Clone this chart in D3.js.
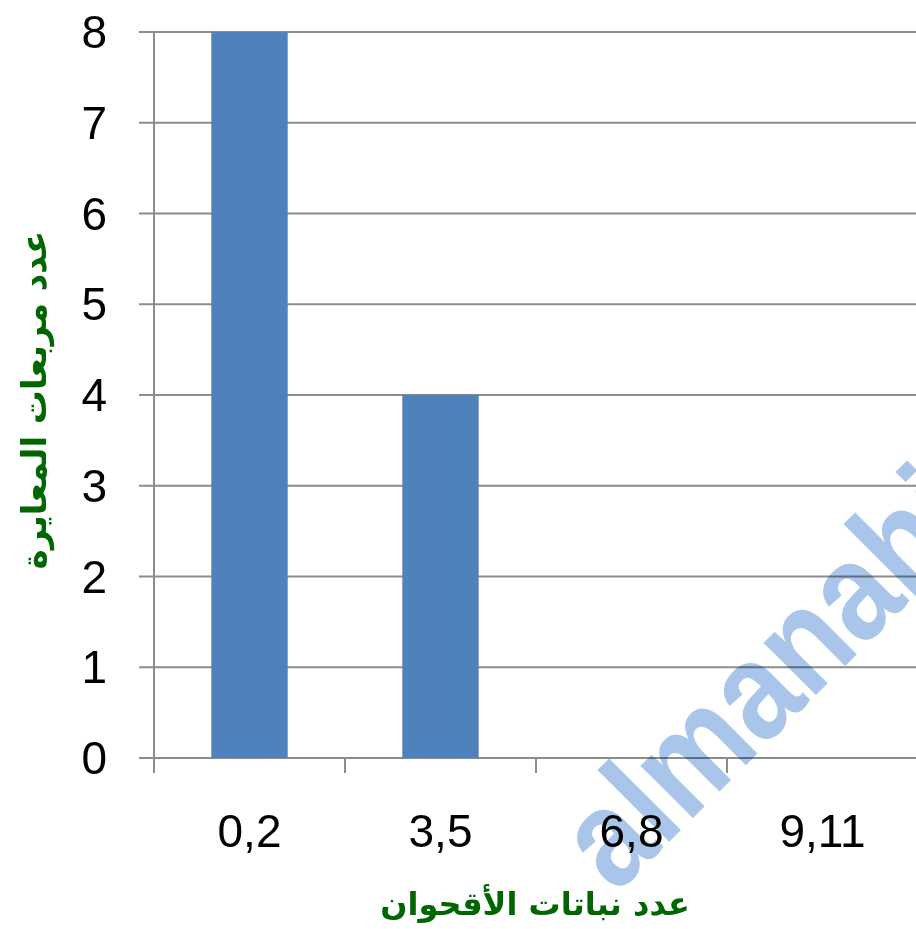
<!DOCTYPE html>
<html><head><meta charset="utf-8">
<script src="https://cdn.jsdelivr.net/npm/d3@7"></script>
<style>body{margin:0;background:#fff;} svg{display:block;}</style>
</head><body>
<script>
const categories = ["0,2", "3,5", "6,8", "9,11"];
const values = [8, 4, 0, 0];
const yTicks = [0, 1, 2, 3, 4, 5, 6, 7, 8];
const xTitle = "عدد نباتات الأقحوان";
const yTitle = "عدد مربعات المعايرة";
const watermark = "almanahj";

const W = 916, H = 929;
const svg = d3.select("body").append("svg").attr("width", W).attr("height", H);

const x = d3.scaleBand().domain(categories).range([154, 918]).paddingInner(0.6).paddingOuter(0.3);
const xTicksScale = d3.scaleBand().domain(categories).range([154, 918]);
const y = d3.scaleLinear().domain([0, 8]).range([758, 32]);

const grid = "#8c8c8c";
// gridlines
svg.append("g").selectAll("line").data(yTicks).join("line")
  .attr("x1", 139).attr("x2", 918)
  .attr("y1", d => y(d)).attr("y2", d => y(d))
  .attr("stroke", grid).attr("stroke-width", 2);

// y axis line
svg.append("line").attr("x1", 154).attr("x2", 154).attr("y1", y(8)).attr("y2", y(0) + 15)
  .attr("stroke", grid).attr("stroke-width", 2);

// x ticks
svg.append("g").selectAll("line").data(categories.slice(1).concat(["end"])).join("line")
  .attr("x1", (d, i) => xTicksScale.range()[0] + (i + 1) * xTicksScale.step())
  .attr("x2", (d, i) => xTicksScale.range()[0] + (i + 1) * xTicksScale.step())
  .attr("y1", y(0)).attr("y2", y(0) + 15)
  .attr("stroke", grid).attr("stroke-width", 2);

// bars
svg.append("g").selectAll("rect").data(values).join("rect")
  .attr("x", (d, i) => x(categories[i]))
  .attr("width", x.bandwidth())
  .attr("y", d => y(d))
  .attr("height", d => y(0) - y(d))
  .attr("fill", "#4f81bd");

const font = "Liberation Sans, Arial, sans-serif";
// y labels
svg.append("g").selectAll("text").data(yTicks).join("text")
  .attr("x", 107).attr("y", d => y(d)).attr("dy", "0.35em")
  .attr("text-anchor", "end").attr("font-family", font).attr("font-size", 46)
  .attr("fill", "#000").text(d => d);

// x labels
svg.append("g").selectAll("text").data(categories).join("text")
  .attr("x", d => xTicksScale(d) + xTicksScale.bandwidth() / 2).attr("y", 847)
  .attr("text-anchor", "middle").attr("font-family", font).attr("font-size", 46)
  .attr("fill", "#000").text(d => d);

// titles
svg.append("text").attr("x", 535).attr("y", 915).attr("text-anchor", "middle")
  .attr("font-family", "DejaVu Sans, sans-serif").attr("font-weight", "bold").attr("font-size", 32)
  .attr("fill", "#006600").attr("direction", "rtl").text(xTitle);

svg.append("text").attr("transform", "translate(46,400) rotate(-90)").attr("text-anchor", "middle")
  .attr("font-family", "DejaVu Sans, sans-serif").attr("font-weight", "bold").attr("font-size", 34)
  .attr("fill", "#006600").attr("direction", "rtl").text(yTitle);

// watermark
svg.append("text").attr("transform", "translate(616,895) rotate(-45) scale(0.86,1)")
  .attr("font-family", font).attr("font-weight", "bold").attr("font-size", 140)
  .attr("fill", "#a9c6ea").style("mix-blend-mode", "multiply").text(watermark);
</script>
</body></html>
